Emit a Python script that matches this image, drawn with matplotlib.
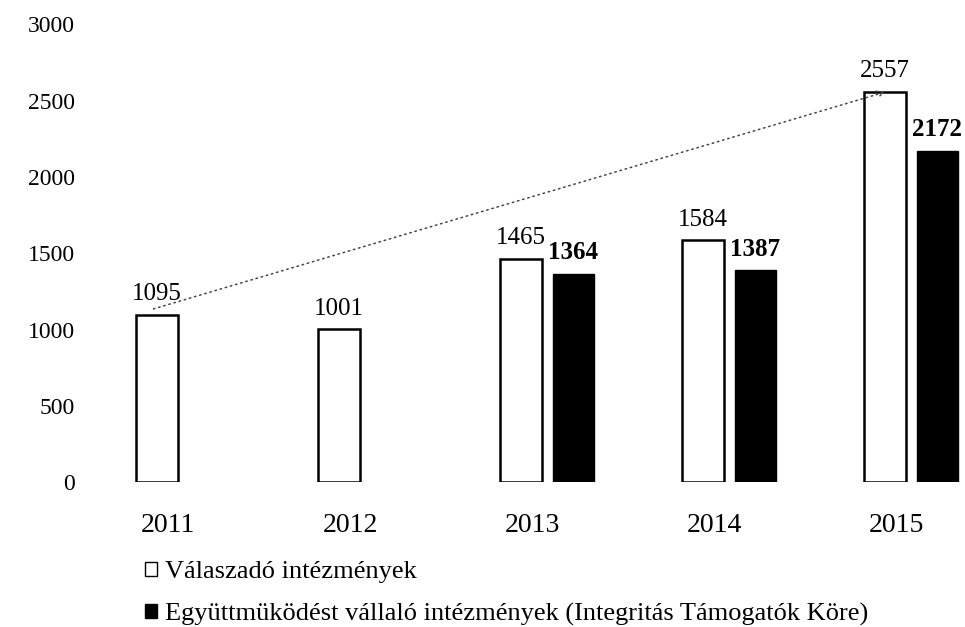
import matplotlib
matplotlib.use("Agg")
import matplotlib.pyplot as plt
from matplotlib.patches import Patch
import numpy as np

years = ["2011", "2012", "2013", "2014", "2015"]
valaszado = [1095, 1001, 1465, 1584, 2557]
egyuttmukodo = [None, None, 1364, 1387, 2172]
legend_labels = ["Válaszadó intézmények",
                 "Együttmüködést vállaló intézmények (Integritás Támogatók Köre)"]

plt.rcParams["font.family"] = ["Liberation Serif", "DejaVu Serif"]

fig = plt.figure(figsize=(9.65, 6.27), dpi=100)
ax = fig.add_axes([100 / 965, 145 / 627, 860 / 965, 457.5 / 627])

x = np.arange(len(years))
w = 0.23
xw = x - 0.06
xb = x + 0.228

ax.bar(xw, valaszado, width=w, color="white", edgecolor="black", linewidth=1.8)
for xi, v in zip(xw, valaszado):
    ax.annotate(str(v), (xi, v), xytext=(0, 7), textcoords="offset points",
                ha="center", va="bottom", fontsize=18)

for xi, v in zip(xb, egyuttmukodo):
    if v is None:
        continue
    ax.bar(xi, v, width=w, color="black", edgecolor="black", linewidth=1.0)
    ax.annotate(str(v), (xi, v), xytext=(0, 7), textcoords="offset points",
                ha="center", va="bottom", fontsize=18, fontweight="bold")

# dotted trend arrow from first to last response count
ax.annotate("", xy=(xw[4], valaszado[4]), xytext=(xw[0] - 0.02, valaszado[0] + 40),
            arrowprops=dict(arrowstyle="->", linestyle=(0, (1, 2.5)), color="#444444",
                            lw=1.1, shrinkA=0, shrinkB=0, mutation_scale=12))

ax.set_xlim((100 - 168) / 182, (960 - 168) / 182)
ax.set_ylim(0, 3000)
ax.set_yticks(np.arange(0, 3001, 500))
ax.set_xticks(x)
ax.set_xticklabels(years)
ax.tick_params(axis="both", length=0)
ax.tick_params(axis="x", pad=22, labelsize=20)
ax.tick_params(axis="y", pad=18, labelsize=17)
for s in ax.spines.values():
    s.set_visible(False)

handles = [Patch(facecolor="white", edgecolor="black", linewidth=1.0),
           Patch(facecolor="black", edgecolor="black")]
fig.legend(handles, legend_labels, loc="upper left", bbox_to_anchor=(145 / 965, 1 - 561 / 627),
           frameon=False, fontsize=19, handlelength=0.45, handleheight=0.45,
           handletextpad=0.3, labelspacing=0.75, borderaxespad=0, borderpad=0)

fig.savefig("out.png", dpi=100)
